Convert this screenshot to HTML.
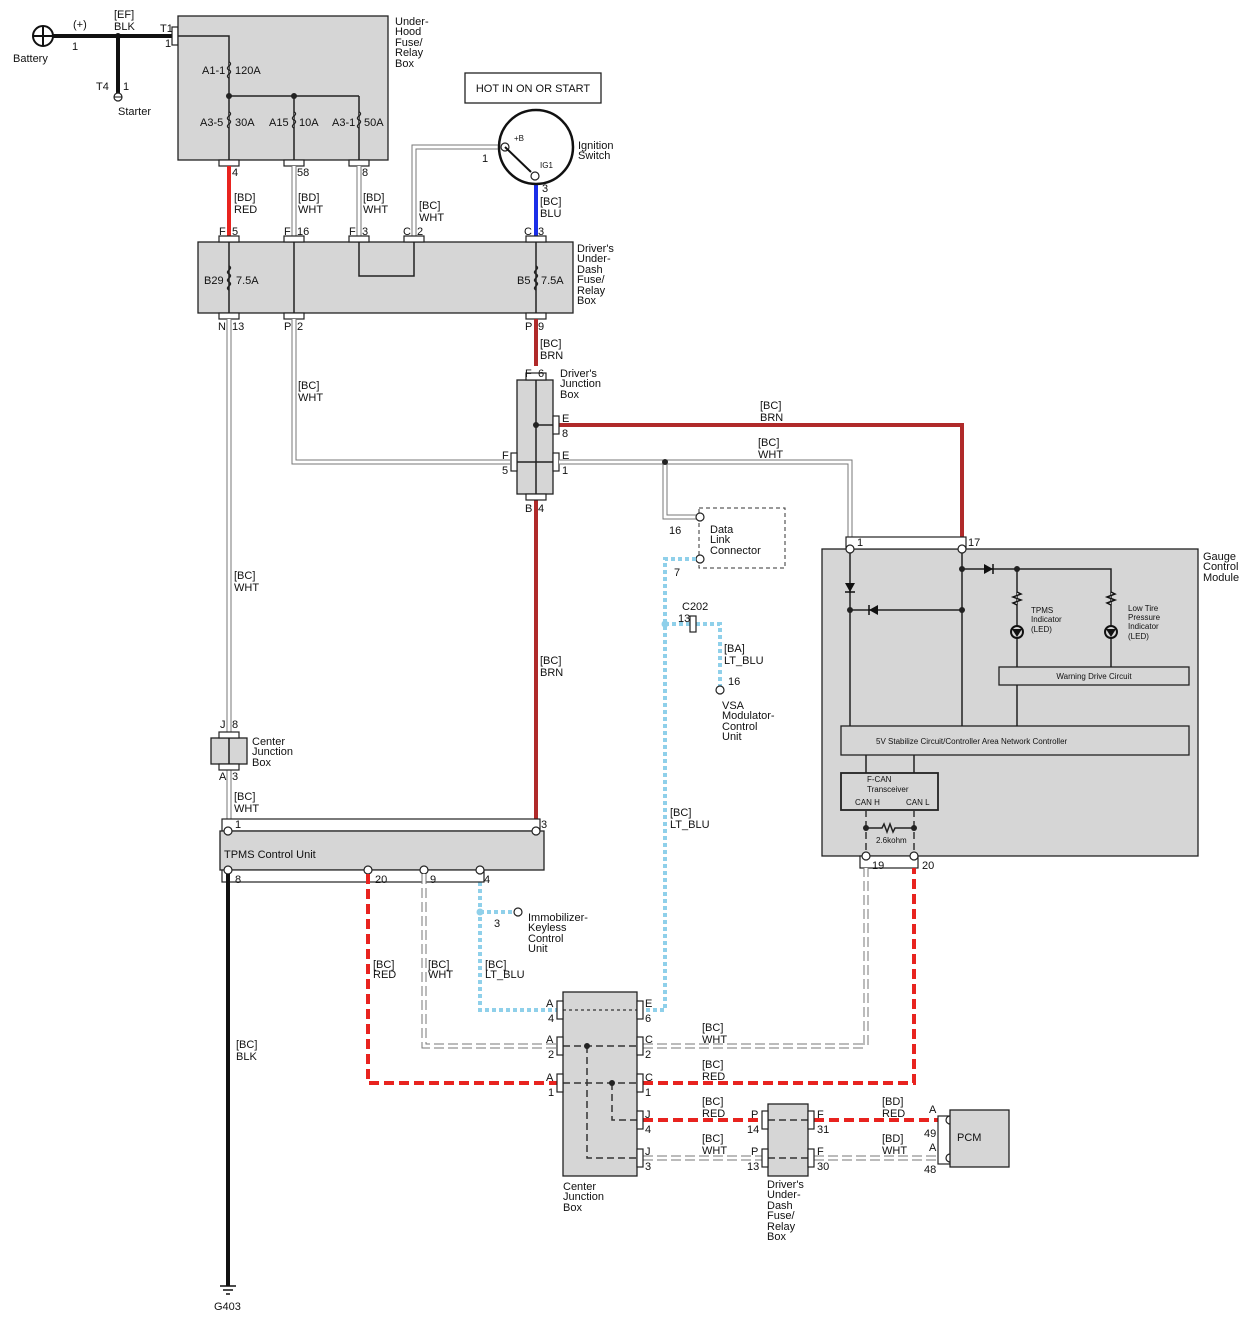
<!DOCTYPE html><html><head><meta charset="utf-8"><style>
body{margin:0;background:#fff}
svg{display:block}
text{font-family:"Liberation Sans",sans-serif;font-size:11px;fill:#111}
.s{font-size:8px}
.box{fill:#d6d6d6;stroke:#222;stroke-width:1.3}
.k{stroke:#222;stroke-width:1.5;fill:none}
.c{fill:#fff;stroke:#222;stroke-width:1.2}
.wo{stroke:#777;stroke-width:5;fill:none}
.wi{stroke:#fff;stroke-width:3;fill:none}
.wdo{stroke:#777;stroke-width:5;fill:none;stroke-dasharray:10 4}
.wdi{stroke:#fff;stroke-width:3;fill:none;stroke-dasharray:10 4}
.red{stroke:#e8231f;stroke-width:4;fill:none}
.redd{stroke:#e8231f;stroke-width:4;fill:none;stroke-dasharray:10 5}
.brn{stroke:#b02a2a;stroke-width:4;fill:none}
.lb{stroke:#8fd0ea;stroke-width:4;fill:none;stroke-dasharray:4 3}
.dk{stroke:#333;stroke-width:1.5;fill:none;stroke-dasharray:7 4}
.dt{stroke:#333;stroke-width:1.2;fill:none;stroke-dasharray:3 3}
</style></head><body>
<svg width="1254" height="1326" viewBox="0 0 1254 1326" xmlns="http://www.w3.org/2000/svg">
<!-- Battery -->
<circle cx="43" cy="36" r="10" fill="#fff" stroke="#111" stroke-width="2"/>
<path d="M33 36H53M43 26V46" stroke="#111" stroke-width="2"/>
<text x="13" y="62">Battery</text><text x="73" y="28">(+)</text><text x="72" y="50">1</text>
<path d="M53 36H172" stroke="#111" stroke-width="4"/>
<path d="M118 36V94" stroke="#111" stroke-width="4"/>
<circle cx="118" cy="36" r="3" fill="#111"/>
<circle cx="118" cy="97" r="4" class="c"/><path d="M114 97H122" stroke="#111"/>
<text x="114" y="18">[EF]</text><text x="114" y="30">BLK</text>
<text x="96" y="90">T4</text><text x="123" y="90">1</text><text x="118" y="115">Starter</text>
<rect x="172" y="27" width="6" height="18" class="c"/>
<text x="160" y="32">T1</text><text x="165" y="47">1</text>
<!-- Under-hood box -->
<rect x="178" y="16" width="210" height="144" class="box"/>
<text x="395" y="25">Under-</text><text x="395" y="35">Hood</text><text x="395" y="46">Fuse/</text><text x="395" y="56">Relay</text><text x="395" y="67">Box</text>
<path class="k" d="M178 36H229V160M229 96H359M294 96V160M359 96V160"/>
<g class="k" stroke-width="1.5">
<path d="M229 62c5 3 -5 5 0 8c5 3 -5 5 0 8" fill="#d6d6d6"/>
<path d="M229 112c5 3 -5 5 0 8c5 3 -5 5 0 8" fill="#d6d6d6"/>
<path d="M294 112c5 3 -5 5 0 8c5 3 -5 5 0 8" fill="#d6d6d6"/>
<path d="M359 112c5 3 -5 5 0 8c5 3 -5 5 0 8" fill="#d6d6d6"/>
</g>
<circle cx="229" cy="96" r="3" fill="#222"/><circle cx="294" cy="96" r="3" fill="#222"/>
<text x="202" y="74">A1-1</text><text x="235" y="74">120A</text>
<text x="200" y="126">A3-5</text><text x="235" y="126">30A</text>
<text x="269" y="126">A15</text><text x="299" y="126">10A</text>
<text x="332" y="126">A3-1</text><text x="364" y="126">50A</text>
<rect x="219" y="160" width="20" height="6" class="c"/><rect x="284" y="160" width="20" height="6" class="c"/><rect x="349" y="160" width="20" height="6" class="c"/>
<text x="232" y="176">4</text><text x="297" y="176">58</text><text x="362" y="176">8</text>
<!-- wires to driver's box -->
<path class="red" d="M229 166V236"/>
<path class="wo" d="M294 166V236M359 166V236M414 236V147H505"/><path class="wi" d="M294 166V236M359 166V236M414 236V147H505"/>
<path d="M536 184V236" stroke="#1a2ee8" stroke-width="4"/>
<text x="234" y="201">[BD]</text><text x="234" y="213">RED</text>
<text x="298" y="201">[BD]</text><text x="298" y="213">WHT</text>
<text x="363" y="201">[BD]</text><text x="363" y="213">WHT</text>
<text x="419" y="209">[BC]</text><text x="419" y="221">WHT</text>
<text x="540" y="205">[BC]</text><text x="540" y="217">BLU</text>
<!-- HOT -->
<rect x="465" y="73" width="136" height="30" fill="#fff" stroke="#222" stroke-width="1.3"/>
<text x="533" y="92" text-anchor="middle">HOT IN ON OR START</text>
<!-- Ignition -->
<circle cx="536" cy="147" r="37" fill="#fff" stroke="#111" stroke-width="2.5"/>
<circle cx="505" cy="147" r="4" class="c"/><circle cx="535" cy="176" r="4" class="c"/>
<path d="M505 147L531 172" stroke="#111" stroke-width="2"/>
<text x="514" y="141" class="s">+B</text><text x="540" y="168" class="s">IG1</text>
<text x="482" y="162">1</text><text x="542" y="192">3</text>
<text x="578" y="149">Ignition</text><text x="578" y="159">Switch</text>
<!-- Driver's under-dash box -->
<rect x="198" y="242" width="375" height="71" class="box"/>
<path class="k" d="M229 242V313M294 242V313M359 242V276H414V242M536 242V313"/>
<path class="k" d="M229 266c5 3 -5 5 0 8c5 3 -5 5 0 8c5 3 -5 5 0 8" fill="#d6d6d6"/>
<path class="k" d="M536 266c5 3 -5 5 0 8c5 3 -5 5 0 8c5 3 -5 5 0 8" fill="#d6d6d6"/>
<text x="204" y="284">B29</text><text x="236" y="284">7.5A</text>
<text x="517" y="284">B5</text><text x="541" y="284">7.5A</text>
<g><rect x="219" y="236" width="20" height="6" class="c"/><rect x="284" y="236" width="20" height="6" class="c"/><rect x="349" y="236" width="20" height="6" class="c"/><rect x="404" y="236" width="20" height="6" class="c"/><rect x="526" y="236" width="20" height="6" class="c"/>
<rect x="219" y="313" width="20" height="6" class="c"/><rect x="284" y="313" width="20" height="6" class="c"/><rect x="526" y="313" width="20" height="6" class="c"/></g>
<text x="219" y="235">F</text><text x="232" y="235">5</text><text x="284" y="235">F</text><text x="297" y="235">16</text><text x="349" y="235">F</text><text x="362" y="235">3</text><text x="403" y="235">C</text><text x="417" y="235">2</text><text x="524" y="235">C</text><text x="538" y="235">3</text>
<text x="218" y="330">N</text><text x="232" y="330">13</text><text x="284" y="330">P</text><text x="297" y="330">2</text><text x="525" y="330">P</text><text x="538" y="330">9</text>
<text x="577" y="252">Driver's</text><text x="577" y="262">Under-</text><text x="577" y="273">Dash</text><text x="577" y="283">Fuse/</text><text x="577" y="294">Relay</text><text x="577" y="304">Box</text>
<!-- wires down -->
<path class="wo" d="M229 319V732M294 319V462H510M229 770V819"/><path class="wi" d="M229 319V732M294 319V462H510M229 770V819"/>
<path class="brn" d="M536 319V366M536 500V819M559 425H962V548"/>
<text x="540" y="347">[BC]</text><text x="540" y="359">BRN</text>
<text x="298" y="389">[BC]</text><text x="298" y="401">WHT</text>
<text x="234" y="579">[BC]</text><text x="234" y="591">WHT</text>
<text x="540" y="664">[BC]</text><text x="540" y="676">BRN</text>
<text x="760" y="409">[BC]</text><text x="760" y="421">BRN</text>
<text x="758" y="446">[BC]</text><text x="758" y="458">WHT</text>
<!-- Driver's Junction Box -->
<rect x="517" y="380" width="36" height="114" class="box"/>
<path class="k" d="M536 380V494M536 425H553M517 462H553"/>
<circle cx="536" cy="425" r="3" fill="#222"/>
<rect x="526" y="373" width="20" height="7" class="c"/><rect x="526" y="494" width="20" height="6" class="c"/>
<rect x="553" y="416" width="6" height="18" class="c"/><rect x="553" y="453" width="6" height="18" class="c"/><rect x="511" y="453" width="6" height="18" class="c"/>
<text x="525" y="377">F</text><text x="538" y="377">6</text><text x="525" y="512">B</text><text x="538" y="512">4</text>
<text x="562" y="422">E</text><text x="562" y="437">8</text><text x="562" y="459">E</text><text x="562" y="474">1</text>
<text x="502" y="459">F</text><text x="502" y="474">5</text>
<text x="560" y="377">Driver's</text><text x="560" y="387">Junction</text><text x="560" y="398">Box</text>
<!-- white to gauge & DLC -->
<path class="wo" d="M559 462H850V542M665 462V517H696"/><path class="wi" d="M559 462H850V542M665 462V517H696"/>
<circle cx="665" cy="462" r="3" fill="#222"/>
<rect x="699" y="508" width="86" height="60" fill="#fff" stroke="#333" stroke-dasharray="4 3"/>
<circle cx="700" cy="517" r="4" class="c"/><circle cx="700" cy="559" r="4" class="c"/>
<text x="710" y="533">Data</text><text x="710" y="543">Link</text><text x="710" y="554">Connector</text>
<text x="669" y="534">16</text><text x="674" y="576">7</text>
<!-- LT BLU -->
<path class="lb" d="M696 559H665V1010H645M665 624H690M696 624H720V686M480 882V1010H557M480 912H514"/>
<circle cx="665" cy="624" r="3.5" fill="#8fd0ea"/><circle cx="480" cy="912" r="3.5" fill="#8fd0ea"/>
<rect x="690" y="616" width="6" height="16" class="c"/>
<text x="682" y="610">C202</text><text x="678" y="622">13</text>
<circle cx="720" cy="690" r="4" class="c"/>
<text x="728" y="685">16</text>
<text x="724" y="652">[BA]</text><text x="724" y="664">LT_BLU</text>
<text x="722" y="709">VSA</text><text x="722" y="719">Modulator-</text><text x="722" y="730">Control</text><text x="722" y="740">Unit</text>
<text x="670" y="816">[BC]</text><text x="670" y="828">LT_BLU</text>
<circle cx="518" cy="912" r="4" class="c"/><text x="494" y="927">3</text>
<text x="528" y="921">Immobilizer-</text><text x="528" y="931">Keyless</text><text x="528" y="942">Control</text><text x="528" y="952">Unit</text>
<!-- Gauge module -->
<rect x="822" y="549" width="376" height="307" class="box"/>
<rect x="846" y="537" width="120" height="12" class="c"/>
<circle cx="850" cy="549" r="4" class="c"/><circle cx="962" cy="549" r="4" class="c"/>
<text x="857" y="546">1</text><text x="968" y="546">17</text>
<text x="1203" y="560">Gauge</text><text x="1203" y="570">Control</text><text x="1203" y="581">Module</text>
<path class="k" d="M850 553V726M962 553V726M962 569H1111V667M850 610H962M1017 569V667M1017 685V726M866 755V773M914 755V773"/>
<path d="M845 583H855L850 592Z" fill="#111"/><path d="M845 592H855" stroke="#111" stroke-width="1.5"/>
<path d="M984 564V574L993 569Z" fill="#111"/><path d="M993 564V574" stroke="#111" stroke-width="1.5"/>
<path d="M878 605V615L869 610Z" fill="#111"/><path d="M869 605V615" stroke="#111" stroke-width="1.5"/>
<g fill="#222"><circle cx="962" cy="569" r="3"/><circle cx="1017" cy="569" r="3"/><circle cx="850" cy="610" r="3"/><circle cx="962" cy="610" r="3"/></g>
<path d="M1017 592l4 2l-8 3l8 3l-8 3l4 2" fill="#d6d6d6" stroke="#111" stroke-width="1.5"/>
<path d="M1111 592l4 2l-8 3l8 3l-8 3l4 2" fill="#d6d6d6" stroke="#111" stroke-width="1.5"/>
<circle cx="1017" cy="632" r="6" fill="#d6d6d6" stroke="#111" stroke-width="2"/><path d="M1012 629H1022L1017 637Z" fill="#111"/>
<circle cx="1111" cy="632" r="6" fill="#d6d6d6" stroke="#111" stroke-width="2"/><path d="M1106 629H1116L1111 637Z" fill="#111"/>
<text x="1031" y="613" class="s">TPMS</text><text x="1031" y="622" class="s">Indicator</text><text x="1031" y="632" class="s">(LED)</text>
<text x="1128" y="611" class="s">Low Tire</text><text x="1128" y="620" class="s">Pressure</text><text x="1128" y="629" class="s">Indicator</text><text x="1128" y="639" class="s">(LED)</text>
<rect x="999" y="667" width="190" height="18" fill="#d6d6d6" stroke="#222" stroke-width="1.3"/>
<text x="1094" y="679" class="s" text-anchor="middle">Warning Drive Circuit</text>
<rect x="841" y="726" width="348" height="29" fill="#d6d6d6" stroke="#222" stroke-width="1.3"/>
<text x="876" y="744" class="s">5V Stabilize Circuit/Controller Area Network Controller</text>
<rect x="841" y="773" width="97" height="37" fill="#d6d6d6" stroke="#222" stroke-width="1.8"/>
<text x="867" y="782" class="s">F-CAN</text><text x="867" y="792" class="s">Transceiver</text>
<text x="855" y="805" class="s">CAN H</text><text x="906" y="805" class="s">CAN L</text>
<path class="dk" d="M866 810V856M914 810V856" stroke-width="2"/>
<path class="k" d="M866 828H882l2 -4l3 8l3 -8l3 8l2 -4H914"/>
<circle cx="866" cy="828" r="3" fill="#222"/><circle cx="914" cy="828" r="3" fill="#222"/>
<text x="876" y="843" class="s">2.6kohm</text>
<rect x="860" y="856" width="58" height="12" class="c"/>
<circle cx="866" cy="856" r="4" class="c"/><circle cx="914" cy="856" r="4" class="c"/>
<text x="872" y="869">19</text><text x="922" y="869">20</text>
<!-- Center junction small -->
<rect x="211" y="738" width="36" height="26" class="box"/>
<path class="k" d="M229 738V764"/>
<rect x="219" y="732" width="20" height="6" class="c"/><rect x="219" y="764" width="20" height="6" class="c"/>
<text x="220" y="728">J</text><text x="232" y="728">8</text><text x="219" y="780">A</text><text x="232" y="780">3</text>
<text x="252" y="745">Center</text><text x="252" y="755">Junction</text><text x="252" y="766">Box</text>
<text x="234" y="800">[BC]</text><text x="234" y="812">WHT</text>
<!-- TPMS unit -->
<rect x="222" y="819" width="318" height="12" class="c"/>
<rect x="220" y="831" width="324" height="39" class="box"/>
<rect x="222" y="870" width="262" height="12" class="c"/>
<g class="c"><circle cx="228" cy="831" r="4"/><circle cx="536" cy="831" r="4"/><circle cx="228" cy="870" r="4"/><circle cx="368" cy="870" r="4"/><circle cx="424" cy="870" r="4"/><circle cx="480" cy="870" r="4"/></g>
<text x="235" y="828">1</text><text x="541" y="828">3</text>
<text x="224" y="858">TPMS Control Unit</text>
<text x="235" y="883">8</text><text x="375" y="883">20</text><text x="430" y="883">9</text><text x="484" y="883">4</text>
<!-- ground -->
<path d="M228 874V1286" stroke="#111" stroke-width="4"/>
<path d="M220 1286H236M223 1290H233M226 1294H230" stroke="#111" stroke-width="1.5"/>
<text x="214" y="1310">G403</text>
<text x="236" y="1048">[BC]</text><text x="236" y="1060">BLK</text>
<!-- TPMS lower wires -->
<path class="redd" d="M368 874V1083H557M643 1083H914V868M643 1120H762M814 1120H938"/>
<path class="wdo" d="M424 874V1046H557M643 1046H866V868M643 1158H762M814 1158H938"/><path class="wdi" d="M424 874V1046H557M643 1046H866V868M643 1158H762M814 1158H938"/>
<text x="373" y="968">[BC]</text><text x="373" y="978">RED</text>
<text x="428" y="968">[BC]</text><text x="428" y="978">WHT</text>
<text x="485" y="968">[BC]</text><text x="485" y="978">LT_BLU</text>
<!-- Center junction big -->
<rect x="563" y="992" width="74" height="184" class="box"/>
<path class="dt" d="M563 1010H637"/>
<path class="dk" d="M563 1046H637M563 1083H637M587 1046V1158H637M612 1083V1120H637"/>
<circle cx="587" cy="1046" r="3" fill="#222"/><circle cx="612" cy="1083" r="3" fill="#222"/>
<g class="c"><rect x="557" y="1001" width="6" height="18"/><rect x="557" y="1037" width="6" height="18"/><rect x="557" y="1074" width="6" height="18"/>
<rect x="637" y="1001" width="6" height="18"/><rect x="637" y="1037" width="6" height="18"/><rect x="637" y="1074" width="6" height="18"/><rect x="637" y="1111" width="6" height="18"/><rect x="637" y="1149" width="6" height="18"/></g>
<text x="546" y="1007">A</text><text x="548" y="1022">4</text><text x="546" y="1043">A</text><text x="548" y="1058">2</text><text x="546" y="1081">A</text><text x="548" y="1096">1</text>
<text x="645" y="1007">E</text><text x="645" y="1022">6</text><text x="645" y="1043">C</text><text x="645" y="1058">2</text><text x="645" y="1081">C</text><text x="645" y="1096">1</text><text x="645" y="1118">J</text><text x="645" y="1133">4</text><text x="645" y="1155">J</text><text x="645" y="1170">3</text>
<text x="563" y="1190">Center</text><text x="563" y="1200">Junction</text><text x="563" y="1211">Box</text>
<text x="702" y="1031">[BC]</text><text x="702" y="1043">WHT</text>
<text x="702" y="1068">[BC]</text><text x="702" y="1080">RED</text>
<text x="702" y="1105">[BC]</text><text x="702" y="1117">RED</text>
<text x="702" y="1142">[BC]</text><text x="702" y="1154">WHT</text>
<!-- driver's small box -->
<rect x="768" y="1104" width="40" height="72" class="box"/>
<path class="dk" d="M768 1120H808M768 1158H808"/>
<g class="c"><rect x="762" y="1111" width="6" height="18"/><rect x="762" y="1149" width="6" height="18"/><rect x="808" y="1111" width="6" height="18"/><rect x="808" y="1149" width="6" height="18"/></g>
<text x="751" y="1118">P</text><text x="747" y="1133">14</text><text x="751" y="1155">P</text><text x="747" y="1170">13</text>
<text x="817" y="1118">F</text><text x="817" y="1133">31</text><text x="817" y="1155">F</text><text x="817" y="1170">30</text>
<text x="767" y="1188">Driver's</text><text x="767" y="1198">Under-</text><text x="767" y="1209">Dash</text><text x="767" y="1219">Fuse/</text><text x="767" y="1230">Relay</text><text x="767" y="1240">Box</text>
<text x="882" y="1105">[BD]</text><text x="882" y="1117">RED</text>
<text x="882" y="1142">[BD]</text><text x="882" y="1154">WHT</text>
<!-- PCM -->
<rect x="938" y="1116" width="12" height="48" class="c"/>
<circle cx="950" cy="1120" r="4" class="c"/><circle cx="950" cy="1158" r="4" class="c"/>
<rect x="950" y="1110" width="59" height="57" class="box"/>
<text x="957" y="1141">PCM</text>
<text x="929" y="1113">A</text><text x="924" y="1137">49</text><text x="929" y="1151">A</text><text x="924" y="1173">48</text>
</svg>
</body></html>
